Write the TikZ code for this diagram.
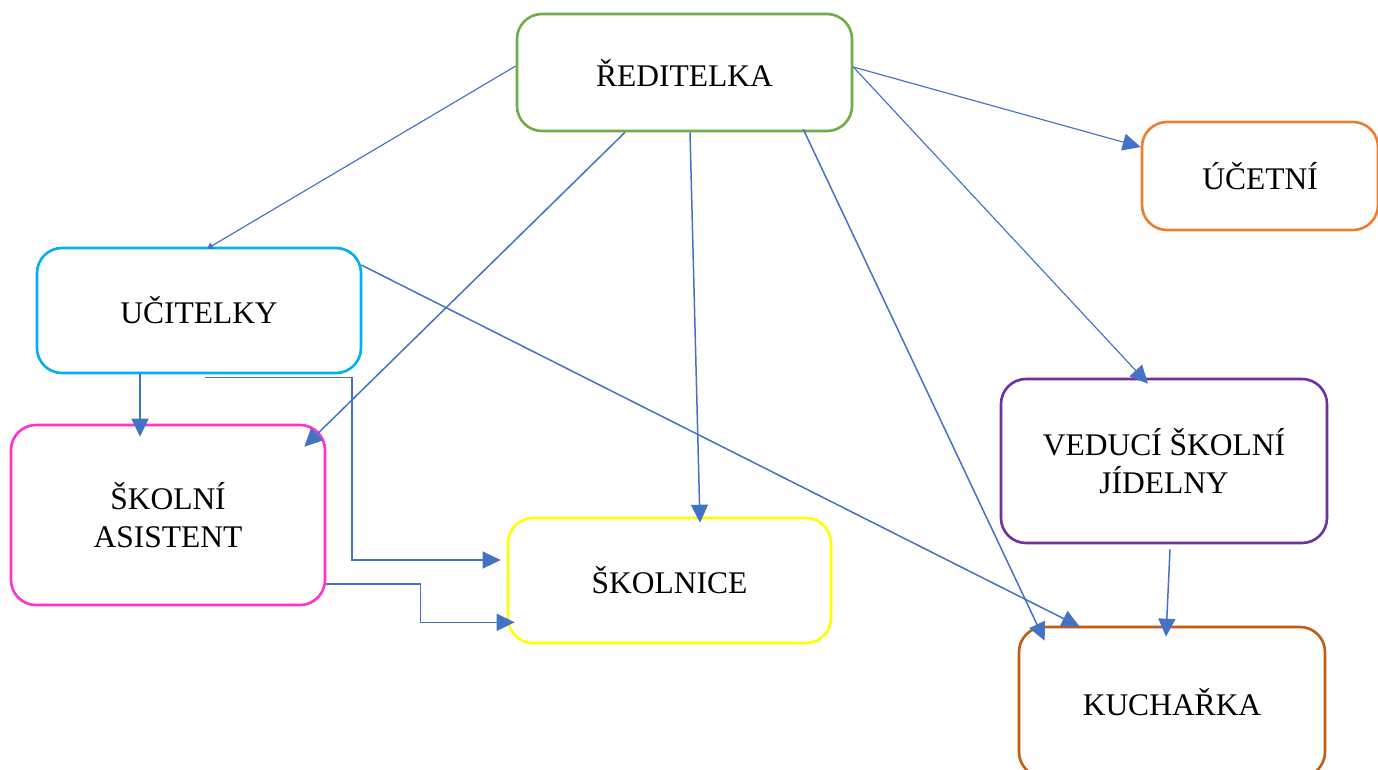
\documentclass[tikz,border=0pt]{standalone}
\usepackage{fontspec}
\setmainfont{Liberation Serif}
\usetikzlibrary{arrows.meta}
\definecolor{cblue}{HTML}{4472C4}
\definecolor{cgreen}{HTML}{70AD47}
\definecolor{corange}{HTML}{ED7D31}
\definecolor{ccyan}{HTML}{00B0F0}
\definecolor{cpink}{HTML}{FF33CC}
\definecolor{cyellow}{HTML}{FFFF00}
\definecolor{cpurple}{HTML}{7030A0}
\definecolor{cbrown}{HTML}{C55A11}
\tikzset{
  box/.style={draw, line width=2.6pt, rounded corners=25pt, inner sep=0pt,
    align=center, font=\fontsize{31.5}{38}\selectfont},
  arr/.style={draw=cblue, line width=1.5pt, -{Triangle[length=18pt,width=17pt]}},
  thinarr/.style={draw=cblue, line width=1.15pt, -{Triangle[length=18pt,width=17pt]}},
  tinyarr/.style={draw=cblue, line width=1.15pt, -{Triangle[length=6pt,width=7pt]}}
}
\begin{document}
\begin{tikzpicture}[x=1pt,y=-1pt]
\clip (0,0) rectangle (1378,769);
\fill[white] (0,0) rectangle (1378,769);
\node[box, draw=cgreen, minimum width=335pt, minimum height=117pt] (red) at (684.5,72.5) {ŘEDITELKA};
\node[box, draw=corange, minimum width=236pt, minimum height=108pt] (uce) at (1260,176) {ÚČETNÍ};
\node[box, draw=ccyan, minimum width=324pt, minimum height=125pt] (uc) at (199,310.5) {UČITELKY};
\node[box, draw=cpink, minimum width=314pt, minimum height=180pt] (as) at (168,515) {ŠKOLNÍ\\ASISTENT};
\node[box, draw=cyellow, minimum width=323pt, minimum height=125pt] (sk) at (669.5,580.5) {ŠKOLNICE};
\node[box, draw=cpurple, minimum width=326pt, minimum height=164pt] (ved) at (1164,461) {VEDUCÍ ŠKOLNÍ\\JÍDELNY};
\node[box, draw=cbrown, minimum width=306pt, minimum height=150pt] (ku) at (1172,702) {KUCHAŘKA};

\draw[tinyarr] ([yshift=6.5pt]red.west) -- ([xshift=8pt,yshift=-2pt]uc.north);
\draw[arr] ([xshift=-59.5pt]red.south) -- ([xshift=-22pt,yshift=-23pt]as.north east);
\draw[arr] ([xshift=5.5pt]red.south) -- ([xshift=30.5pt,yshift=-6pt]sk.north);
\draw[arr] ([xshift=-50pt,yshift=3pt]red.south east) -- ([xshift=27pt,yshift=-15pt]ku.north west);
\draw[thinarr] ([yshift=5.5pt]red.east) -- ([yshift=29pt]uce.west);
\draw[thinarr] ([yshift=5.5pt]red.east) -- ([xshift=-16pt,yshift=-6pt]ved.north);
\draw[arr] ([xshift=-1pt,yshift=45.5pt]uc.east) -- ([xshift=62pt,yshift=-1pt]ku.north west);
\draw[arr] ([xshift=-59pt]uc.south) -- ([xshift=-28pt,yshift=-13pt]as.north);
\draw[thinarr] ([xshift=6pt,yshift=-3pt]uc.south) -- ++(147,0) |- ([xshift=-6pt,yshift=20.5pt]sk.west);
\draw[arr] ([yshift=-69pt]as.east) -- ++(94,0) |- ([xshift=8pt,yshift=22pt]sk.south west);
\draw[arr] ([xshift=6pt,yshift=-5pt]ved.south) -- ([xshift=-6pt,yshift=-11pt]ku.north);
\end{tikzpicture}
\end{document}
